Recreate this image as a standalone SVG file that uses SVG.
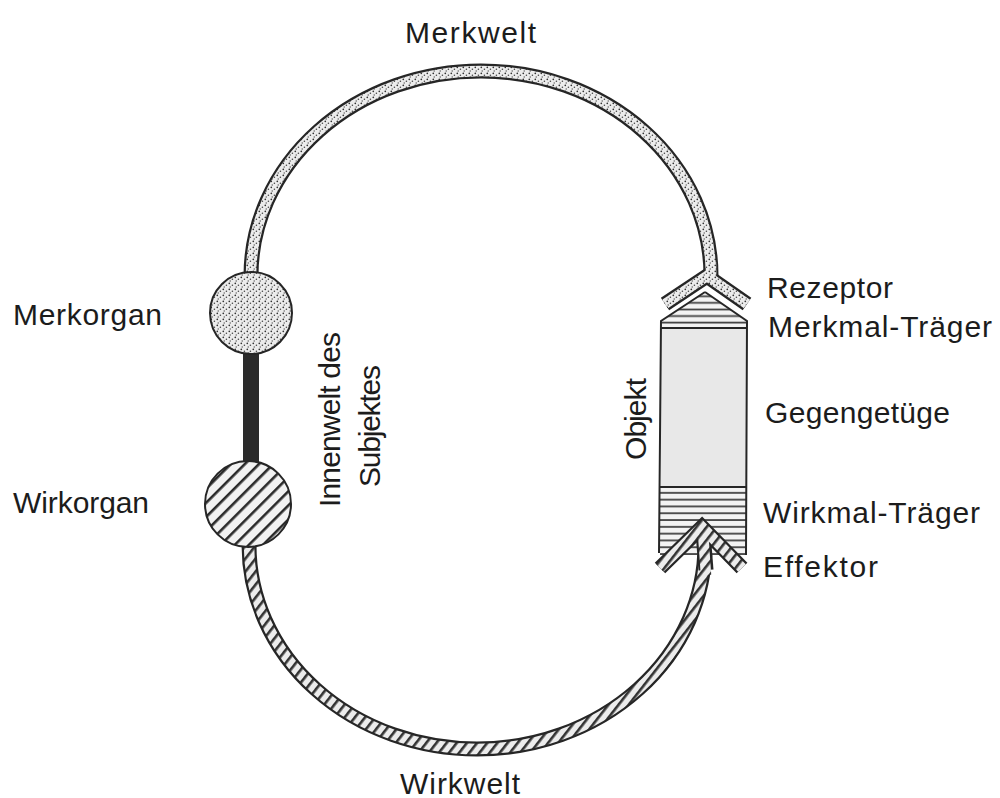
<svg xmlns="http://www.w3.org/2000/svg" width="1000" height="798" viewBox="0 0 1000 798">
<style>
.lbl{font-family:"Liberation Sans",Arial,sans-serif;font-size:30px;fill:#1c1c1c}
.outer{fill:none;stroke:#262626;stroke-width:15;stroke-linejoin:miter;stroke-linecap:butt}
.dotin{fill:none;stroke:url(#dots);stroke-width:10.5;stroke-linejoin:miter;stroke-linecap:butt}
.hatin{fill:none;stroke:url(#hatchband);stroke-width:10.5;stroke-linejoin:miter;stroke-linecap:butt}
.edge{fill:none;stroke:#262626;stroke-width:2}
</style>
<defs>
<pattern id="dots" width="6" height="6" patternUnits="userSpaceOnUse">
<rect width="6" height="6" fill="#ececec"/>
<circle cx="1.3" cy="1.3" r="0.85" fill="#333"/>
<circle cx="4.4" cy="3.2" r="0.8" fill="#444"/>
<circle cx="2.2" cy="5" r="0.7" fill="#555"/>
</pattern>
<pattern id="hatch" width="10" height="10" patternUnits="userSpaceOnUse" patternTransform="rotate(45)">
<rect width="10" height="10" fill="#f2f2f2"/>
<rect width="2.6" height="10" fill="#2a2a2a"/>
</pattern>
<pattern id="hatchband" width="8" height="8" patternUnits="userSpaceOnUse" patternTransform="rotate(38)">
<rect width="8" height="8" fill="#ececec"/>
<rect width="2.6" height="8" fill="#333"/>
</pattern>
<pattern id="stripes" width="10" height="6.6" patternUnits="userSpaceOnUse" y="291">
<rect width="10" height="6.6" fill="#f3f3f3"/>
<rect y="4.4" width="10" height="1.7" fill="#3a3a3a"/>
</pattern>
<pattern id="stripes2" width="10" height="6.8" patternUnits="userSpaceOnUse" y="487">
<rect width="10" height="6.8" fill="#f3f3f3"/>
<rect y="5" width="10" height="1.7" fill="#3a3a3a"/>
</pattern>
</defs>
<rect width="1000" height="798" fill="#ffffff"/>

<g id="connectors">
<g id="merkwelt-arc">
<path class="outer" d="M 251 276 A 230 205 0 0 1 711 276 L 708 280"/>
<path class="dotin" d="M 251 276 A 230 205 0 0 1 711 276 L 708 280"/>
</g>
<g id="wirkwelt-arc">
<path class="outer" d="M 249 545 A 228 204 0 0 0 705 545 L 703 530"/>
<path class="hatin" d="M 249 545 A 228 204 0 0 0 705 545 L 703 530"/>
</g>
<g id="inner-link">
<rect x="243" y="350" width="16" height="114" fill="#2b2b2b"/>
</g>
</g>

<g id="objekt">
<polygon points="705,292 747,321 747,328 661,328 661,321" fill="url(#stripes)"/>
<rect x="661" y="328" width="86" height="159" fill="#e8e8e8"/>
<rect x="660" y="487" width="86" height="68" fill="url(#stripes2)"/>
<path class="edge" d="M 705 292 L 747 321 L 746 555 M 705 292 L 661 321 L 659 553"/>
<path class="edge" d="M 661 328 L 747 328 M 660 487 L 746 487"/>
</g>

<g id="rezeptor">
<polyline class="outer" points="665,304 707,276 747,304" stroke-width="13"/>
<polyline class="dotin" points="665,304 707,276 747,304" stroke-width="9"/>
<path class="dotin" d="M 711 262 L 711 274 L 708 280"/>
</g>

<g id="effektor">
<path class="outer" d="M 706 570 L 703 532"/>
<polyline class="outer" points="660,568 702,527 742,568"/>
<polyline class="hatin" points="660,568 702,527 742,568"/>
<path class="hatin" d="M 706 575 L 703 532"/>
</g>

<g id="merkorgan">
<circle cx="251" cy="313" r="41" fill="url(#dots)" stroke="#262626" stroke-width="2"/>
</g>
<g id="wirkorgan">
<circle cx="248" cy="504" r="43" fill="url(#hatch)" stroke="#262626" stroke-width="2"/>
</g>

<g id="labels">
<text class="lbl" x="405" y="43" textLength="131">Merkwelt</text>
<text class="lbl" x="400" y="794" textLength="120">Wirkwelt</text>
<text class="lbl" x="13" y="325" textLength="149">Merkorgan</text>
<text class="lbl" x="13" y="513" textLength="136">Wirkorgan</text>
<text class="lbl" x="767" y="298" textLength="126">Rezeptor</text>
<text class="lbl" x="768" y="337" textLength="224">Merkmal-Träger</text>
<text class="lbl" x="765" y="423" textLength="185">Gegengetüge</text>
<text class="lbl" x="763" y="523" textLength="217">Wirkmal-Träger</text>
<text class="lbl" x="763" y="577" textLength="115">Effektor</text>
<text class="lbl" transform="translate(340,507) rotate(-90)" textLength="175">Innenwelt des</text>
<text class="lbl" transform="translate(380,487) rotate(-90)" textLength="122">Subjektes</text>
<text class="lbl" transform="translate(646,460) rotate(-90)" textLength="82">Objekt</text>
</g>
</svg>
